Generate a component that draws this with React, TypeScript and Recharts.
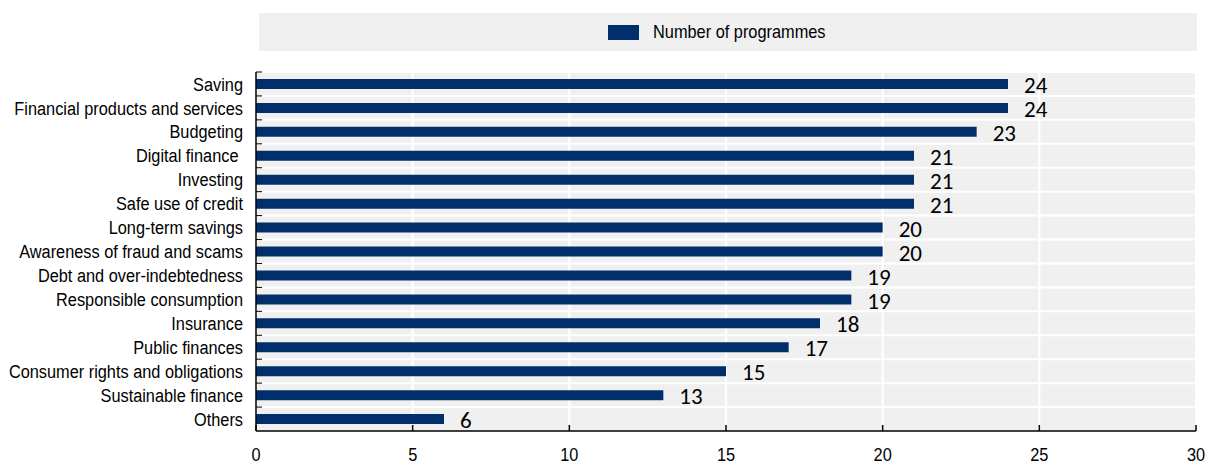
import { BarChart, Bar, XAxis, YAxis, CartesianGrid, LabelList, Legend } from "recharts";

const CATEGORIES = [
  "Saving",
  "Financial products and services",
  "Budgeting",
  "Digital finance ",
  "Investing",
  "Safe use of credit",
  "Long-term savings",
  "Awareness of fraud and scams",
  "Debt and over-indebtedness",
  "Responsible consumption",
  "Insurance",
  "Public finances",
  "Consumer rights and obligations",
  "Sustainable finance",
  "Others",
];
const PROGRAMMES = [24, 24, 23, 21, 21, 21, 20, 20, 19, 19, 18, 17, 15, 13, 6];
const X_TICKS = [0, 5, 10, 15, 20, 25, 30];
const SERIES_NAME = "Number of programmes";

const W = 1205;
const H = 463;
const MARGIN = { top: 72, right: 9, bottom: 0, left: 0 };
const Y_AXIS_W = 256;
const X_AXIS_H = 32;
const PLOT_H = H - MARGIN.top - MARGIN.bottom - X_AXIS_H;
const AXIS_Y = MARGIN.top + PLOT_H;
const BAND = PLOT_H / CATEGORIES.length;

const COLORS = {
  bar: "#002F6C",
  bg: "#F0F0F0",
  grid: "#FFFFFF",
  axis: "#000000",
  text: "#000000",
};
// no narrow font installed, so squeeze Liberation Sans horizontally
const FONT = "'Liberation Sans', Arial, sans-serif";
const SQUEEZE = 0.86;
const LABEL_FONT = "Carlito, Calibri, Lato, sans-serif";

const data = CATEGORIES.map((name, i) => ({ name, value: PROGRAMMES[i] }));

function YTick({ x, y, payload }: any) {
  return (
    <g>
      <line x1={x + 12} x2={x + 18} y1={y - BAND / 2} y2={y - BAND / 2} stroke={COLORS.axis} />
      <text
        transform={`translate(${x - 1},${y}) scale(${SQUEEZE},1)`}
        dy="0.35em"
        textAnchor="end"
        fill={COLORS.text}
        style={{ fontFamily: FONT, fontSize: 19, whiteSpace: "pre" }}
      >
        {payload.value}
      </text>
    </g>
  );
}

function XTick({ x, payload }: any) {
  return (
    <g>
      <line x1={x} x2={x} y1={AXIS_Y} y2={AXIS_Y - 6} stroke={COLORS.axis} strokeWidth={1.5} />
      <text
        transform={`translate(${x},${AXIS_Y + 30}) scale(${SQUEEZE},1)`}
        textAnchor="middle"
        fill={COLORS.text}
        style={{ fontFamily: FONT, fontSize: 19 }}
      >
        {payload.value}
      </text>
    </g>
  );
}

function LegendBox() {
  return (
    <div
      style={{
        background: COLORS.bg,
        width: "100%",
        height: "100%",
        position: "relative",
        fontFamily: FONT,
        fontSize: 19,
        color: COLORS.text,
      }}
    >
      <span
        style={{
          position: "absolute",
          left: 349,
          top: 12,
          width: 31,
          height: 15,
          background: COLORS.bar,
        }}
      />
      <span
        style={{
          position: "absolute",
          left: 394,
          top: 8,
          whiteSpace: "nowrap",
          transform: `scaleX(${SQUEEZE})`,
          transformOrigin: "left center",
          lineHeight: "22px",
        }}
      >
        {SERIES_NAME}
      </span>
    </div>
  );
}

export default function App() {
  return (
    <div style={{ position: "absolute", top: 0, left: 0, width: W, height: H, background: "#fff" }}>
      <BarChart width={W} height={H} data={data} layout="vertical" margin={MARGIN} barSize={10}>
        <CartesianGrid
          fill={COLORS.bg}
          stroke={COLORS.grid}
          strokeWidth={2}
          horizontalCoordinatesGenerator={({ offset }: any) =>
            CATEGORIES.map((_, i) => offset.top + i * BAND)
          }
        />
        <XAxis
          type="number"
          domain={[0, 30]}
          ticks={X_TICKS}
          height={X_AXIS_H}
          tickSize={0}
          tickMargin={13}
          tick={<XTick />}
          axisLine={{ stroke: COLORS.axis, strokeWidth: 1.5 }}
        />
        <YAxis
          type="category"
          dataKey="name"
          width={Y_AXIS_W}
          tickSize={0}
          tickMargin={12}
          tick={<YTick />}
          interval={0}
          axisLine={{ stroke: COLORS.axis, strokeWidth: 1.5 }}
        />
        <Legend
          layout="horizontal"
          verticalAlign="middle"
          align="center"
          content={<LegendBox />}
          wrapperStyle={{ top: 13, left: 259, width: 938, height: 38 }}
        />
        <Bar dataKey="value" name={SERIES_NAME} fill={COLORS.bar} isAnimationActive={false}>
          <LabelList
            dataKey="value"
            position="right"
            offset={16}
            fill={COLORS.text}
            style={{ fontFamily: LABEL_FONT, fontSize: 23 }}
            dy={1}
          />
        </Bar>
      </BarChart>
    </div>
  );
}
